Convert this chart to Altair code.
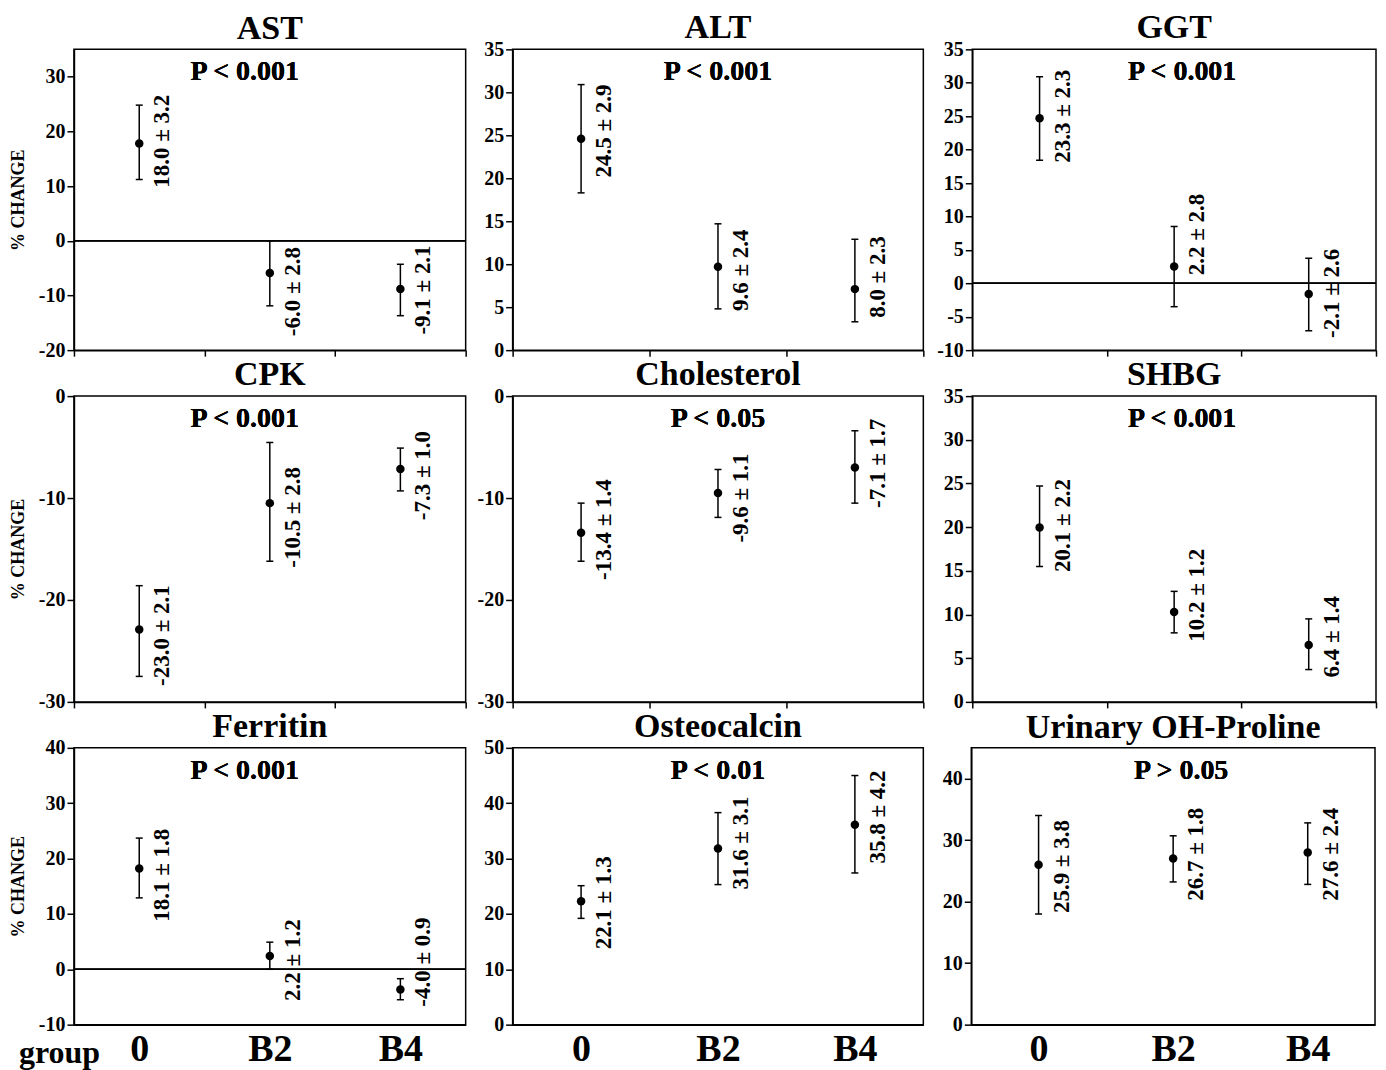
import altair as alt
import pandas as pd

FONT = "Liberation Serif"

groups = ["0", "B2", "B4"]
panels = ["AST", "ALT", "GGT", "CPK", "Cholesterol", "SHBG",
          "Ferritin", "Osteocalcin", "Urinary OH-Proline"]
p_texts = ["P < 0.001", "P < 0.001", "P < 0.001",
           "P < 0.001", "P < 0.05", "P < 0.001",
           "P < 0.001", "P < 0.01", "P > 0.05"]

# plotted point positions
centers = [
    [17.8, -5.9, -8.8],
    [24.6, 9.7, 7.1],
    [24.7, 2.5, -1.6],
    [-22.9, -10.5, -7.15],
    [-13.4, -9.5, -7.0],
    [19.95, 10.3, 6.5],
    [18.2, 2.4, -3.65],
    [22.3, 31.8, 36.1],
    [26.0, 27.0, 28.0],
]
lows = [
    [11.2, -11.9, -13.7],
    [18.3, 4.8, 3.3],
    [18.4, -3.5, -7.1],
    [-27.5, -16.2, -9.3],
    [-16.2, -11.9, -10.5],
    [15.5, 7.9, 3.7],
    [12.9, 0.0, -5.5],
    [19.2, 25.3, 27.4],
    [18.0, 23.2, 22.8],
]
highs = [
    [24.8, 0.0, -4.3],
    [30.9, 14.7, 12.9],
    [30.9, 8.5, 3.75],
    [-18.6, -4.55, -5.1],
    [-10.5, -7.2, -3.4],
    [24.7, 12.65, 9.5],
    [23.7, 4.9, -1.7],
    [25.1, 38.3, 45.0],
    [34.0, 30.7, 32.8],
]
mean_labels = [
    ["18.0 ± 3.2", "-6.0 ± 2.8", "-9.1 ± 2.1"],
    ["24.5 ± 2.9", "9.6 ± 2.4", "8.0 ± 2.3"],
    ["23.3 ± 2.3", "2.2 ± 2.8", "-2.1 ± 2.6"],
    ["-23.0 ± 2.1", "-10.5 ± 2.8", "-7.3 ± 1.0"],
    ["-13.4 ± 1.4", "-9.6 ± 1.1", "-7.1 ± 1.7"],
    ["20.1 ± 2.2", "10.2 ± 1.2", "6.4 ± 1.4"],
    ["18.1 ± 1.8", "2.2 ± 1.2", "-4.0 ± 0.9"],
    ["22.1 ± 1.3", "31.6 ± 3.1", "35.8 ± 4.2"],
    ["25.9 ± 3.8", "26.7 ± 1.8", "27.6 ± 2.4"],
]
# value at which each rotated label is centred
label_at = [
    [18.2, -9.3, -9.0],
    [25.5, 9.3, 8.5],
    [25.0, 7.3, -1.5],
    [-23.5, -11.9, -7.8],
    [-13.1, -10.0, -6.6],
    [20.2, 12.2, 7.45],
    [17.0, 1.65, 1.3],
    [22.0, 32.8, 37.5],
    [25.7, 27.7, 27.7],
]
y_domains = [[-20, 35], [0, 35], [-10, 35],
             [-30, 0], [-30, 0], [0, 35],
             [-10, 40], [0, 50], [0, 45]]
y_ticks = [[-20, -10, 0, 10, 20, 30],
           [0, 5, 10, 15, 20, 25, 30, 35],
           [-10, -5, 0, 5, 10, 15, 20, 25, 30, 35],
           [-30, -20, -10, 0],
           [-30, -20, -10, 0],
           [0, 5, 10, 15, 20, 25, 30, 35],
           [-10, 0, 10, 20, 30, 40],
           [0, 10, 20, 30, 40, 50],
           [0, 10, 20, 30, 40]]

col_widths = [392, 411, 404]
row_heights = [301, 306, 277]
axis_extent = [36, 40, 42]
p_shift = [-25, 0, 8]


def panel(i):
    row, col = divmod(i, 3)
    df = pd.DataFrame({
        "group": groups,
        "v": centers[i],
        "lo": lows[i],
        "hi": highs[i],
        "lab": mean_labels[i],
        "la": label_at[i],
    })
    bottom = row == 2
    ax_kw = dict(
        labels=bottom, ticks=not bottom, tickBand="extent", tickSize=6, labelAngle=0,
        labelFontSize=38, labelBaseline="alphabetic", labelPadding=36 if bottom else 30,
        labelFont=FONT, labelFontWeight="bold",
        domain=True, grid=False,
    )
    if bottom and col == 0:
        ax_kw.update(title="group", titleX=-15, titleY=38, titleAlign="center",
                     titleBaseline="alphabetic", titleFontSize=32,
                     titleFontWeight="bold", titleFont=FONT, titleAngle=0)
    else:
        ax_kw.update(title=None)
    xaxis = alt.Axis(**ax_kw)
    xscale = alt.Scale(type="band", domain=groups, paddingInner=0, paddingOuter=0)
    x = alt.X("group:N", scale=xscale, axis=xaxis, sort=groups)

    yscale = alt.Scale(domain=y_domains[i], nice=False, zero=False)
    y_kw = dict(values=y_ticks[i], minExtent=axis_extent[col], maxExtent=axis_extent[col],
                tickSize=7, labelPadding=2, labelFontSize=20, grid=False,
                labelExpr="'' + datum.value",
                labelOverlap=False, labelFont=FONT, labelFontWeight="bold")
    if col == 0:
        y_kw.update(title="% CHANGE", titleFontSize=18, titlePadding=10,
                    titleFontWeight="bold", titleFont=FONT)
    else:
        y_kw.update(title=None)
    yaxis = alt.Axis(**y_kw)

    base = alt.Chart(df)
    bars = base.mark_rule(color="black", strokeWidth=1.5).encode(
        x=x, y=alt.Y("lo:Q", scale=yscale, axis=yaxis), y2="hi:Q")
    cap_lo = base.mark_tick(color="black", size=7, thickness=1.5, opacity=1).encode(
        x=x, y=alt.Y("lo:Q", scale=yscale, axis=yaxis))
    cap_hi = base.mark_tick(color="black", size=7, thickness=1.5, opacity=1).encode(
        x=x, y=alt.Y("hi:Q", scale=yscale, axis=yaxis))
    pts = base.mark_point(filled=True, size=72, color="black", opacity=1).encode(
        x=x, y=alt.Y("v:Q", scale=yscale, axis=yaxis))
    labs = base.mark_text(angle=270, dy=23, fontSize=23, font=FONT, fontWeight="bold",
                          align="center", baseline="middle", color="black").encode(
        x=x, y=alt.Y("la:Q", scale=yscale, axis=yaxis), text="lab:N")
    ptxt = base.mark_text(fontSize=28, font=FONT, fontWeight="bold", align="center",
                          baseline="top", dy=9, dx=p_shift[col], color="black").encode(
        x=alt.datum("B2"),
        y=alt.YDatum(y_domains[i][1], scale=yscale, axis=yaxis),
        text=alt.value(p_texts[i]))
    layers = [bars, cap_lo, cap_hi, pts, labs, ptxt]
    lo_d, hi_d = y_domains[i]
    if lo_d < 0 < hi_d:
        zero = base.mark_rule(color="black", strokeWidth=1.5).encode(
            y=alt.YDatum(0, scale=yscale, axis=yaxis))
        layers.append(zero)
    top_label = y_ticks[i][-1] == y_domains[i][1]
    return alt.layer(*layers).properties(
        width=col_widths[col], height=row_heights[row],
        view=alt.ViewBackground(stroke="black", strokeWidth=1.5),
        title=alt.TitleParams(panels[i], fontSize=34, font=FONT, fontWeight="bold",
                              offset=-6 if top_label else 3, frame="group",
                              anchor="middle", color="black"))


rows = [alt.hconcat(*[panel(r * 3 + c) for c in range(3)], spacing=4) for r in range(3)]
chart = alt.vconcat(*rows, spacing=-4).properties(
    padding={"left": 1, "top": 2, "right": 0, "bottom": 0}
).configure_view(stroke="black", strokeWidth=1.5).configure_axis(
    domainColor="black", tickColor="black", labelColor="black", titleColor="black",
    labelFont=FONT, labelFontWeight="bold", domainWidth=1.5, tickWidth=1.5
)

chart.save("out.html", embed_options={"renderer": "svg", "actions": False})
